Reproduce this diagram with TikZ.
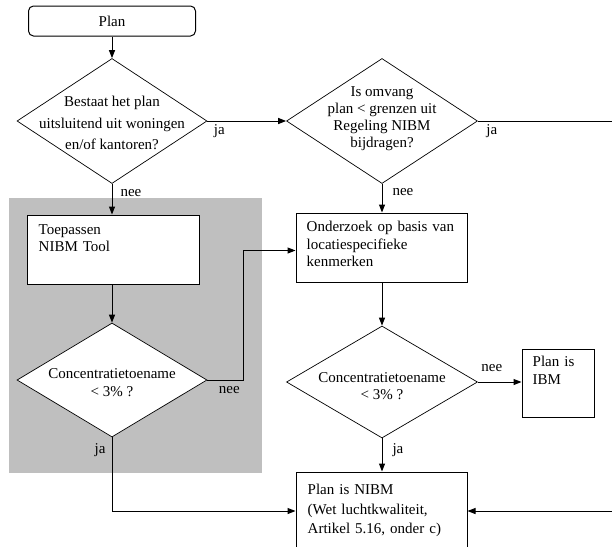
\documentclass[tikz,border=0pt]{standalone}
\usepackage{fontspec}
\setmainfont{Liberation Serif}
\usetikzlibrary{positioning, shapes.geometric, arrows.meta}

\begin{document}
\begin{tikzpicture}[x=1pt,y=-1pt,>={Triangle[length=8pt,width=6pt]},line join=miter]
  \tikzstyle{every node}=[font=\fontsize{15}{18}\selectfont]
  \tikzstyle{decision}=[diamond,draw,fill=white,line width=0.7pt,inner sep=0pt]
  \tikzstyle{procbox}=[rectangle,draw,fill=white,line width=1pt,inner sep=0pt]
  \tikzstyle{qtext}=[align=center,inner sep=0pt,font=\fontsize{15}{#1}\selectfont]
  \tikzstyle{boxtext}=[anchor=base west,inner sep=0pt,text width=#1,align=left]
  \tikzstyle{lbl}=[inner sep=2pt]
  \tikzstyle{flow}=[->,line width=1pt]

  \useasboundingbox (0,0) rectangle (612,546);
  % shaded part (NIBM tool)
  \fill[black!25] (9,198) rectangle (262,473);

  \node[procbox,rounded corners=5pt,minimum width=167pt,minimum height=30pt] (plan) at (112,21) {Plan};

  \node[decision,minimum width=190pt,minimum height=125pt] (d1) at (112,121) {};
  \node[qtext=21.5] (d1txt) at ([yshift=-2pt]d1.center) {Bestaat het plan\\uitsluitend uit woningen\\en/of kantoren?};
  \node[decision,minimum width=191pt,minimum height=125pt] (d2) at (382,121) {};
  \node[qtext=17] (d2txt) at ([yshift=2pt]d2.center) {Is omvang\\plan < grenzen uit\\Regeling NIBM\\bijdragen?};

  \node[procbox,minimum width=172pt,minimum height=69pt] (tool) at (113,249.5) {};
  \node[boxtext=150pt,font=\fontsize{15}{17}\selectfont] (tooltxt) at ([xshift=12pt,yshift=-20pt]tool.north west) {Toepassen\\NIBM Tool};
  \node[procbox,minimum width=171pt,minimum height=69pt] (onder) at (381.5,247.5) {};
  \node[boxtext=155pt,font=\fontsize{15}{17.5}\selectfont] (ondertxt) at ([xshift=11pt,yshift=-19pt]onder.north west) {Onderzoek op basis van\\locatiespecifieke\\kenmerken};

  \node[decision,minimum width=190pt,minimum height=114pt] (d3) at (112,380) {};
  \node[qtext=18] (d3txt) at ([yshift=-3pt]d3.center) {Concentratietoename\\< 3\% ?};
  \node[decision,minimum width=191pt,minimum height=112pt] (d4) at (382,382) {};
  \node[qtext=17] (d4txt) at ([yshift=-4pt]d4.center) {Concentratietoename\\< 3\% ?};

  \node[procbox,minimum width=72pt,minimum height=68pt] (ibm) at (558,383) {};
  \node[boxtext=55pt] (ibmtxt) at ([xshift=11pt,yshift=-18pt]ibm.north west) {Plan is\\IBM};
  \node[procbox,minimum width=171pt,minimum height=78pt] (nibm) at (381.5,511) {};
  \node[boxtext=155pt,font=\fontsize{15}{19.5}\selectfont] (nibmtxt) at ([xshift=12pt,yshift=-23pt]nibm.north west) {Plan is NIBM\\(Wet luchtkwaliteit,\\Artikel 5.16, onder c)};

  \coordinate (rimA) at (612,121);
  \coordinate (rimB) at (612,511);

  \draw[flow] (plan.south) -- (d1.north);
  \draw[flow] (d1.east) -- node[lbl,anchor=north west,pos=0,xshift=4pt,yshift=-1pt] {ja} (d2.west);
  \draw[line width=1pt] (d2.east) -- node[lbl,anchor=north west,pos=0,xshift=6pt,yshift=-1pt] {ja} (rimA);
  \draw[flow] (d1.south) -- node[lbl,anchor=north west,pos=0,xshift=6pt,yshift=-3pt] {nee} (d1.south |- tool.north);
  \draw[flow] (d2.south) -- node[lbl,anchor=north west,pos=0,xshift=8pt,yshift=-2pt] {nee} (d2.south |- onder.north);
  \draw[flow] (d3.north |- tool.south) -- (d3.north);
  \draw[flow] (d3.east) -- node[lbl,anchor=north west,pos=0,xshift=9pt,yshift=-4pt] {nee} ++(36,0) |- ([yshift=-3pt]onder.west);
  \draw[flow] (onder.south -| d4.north) -- (d4.north);
  \draw[flow] (d3.south) -- node[lbl,anchor=north east,pos=0,xshift=-4pt,yshift=-4pt] {ja} (d3.south |- nibm.west) -- (nibm.west);
  \draw[flow] (d4.east) -- node[lbl,anchor=south west,pos=0,xshift=1pt,yshift=8pt] {nee} (d4.east -| ibm.west);
  \draw[flow] (d4.south) -- node[lbl,anchor=north west,pos=0,xshift=8pt,yshift=-3pt] {ja} (d4.south |- nibm.north);
  \draw[flow] (rimB) -- (nibm.east);
\end{tikzpicture}
\end{document}
